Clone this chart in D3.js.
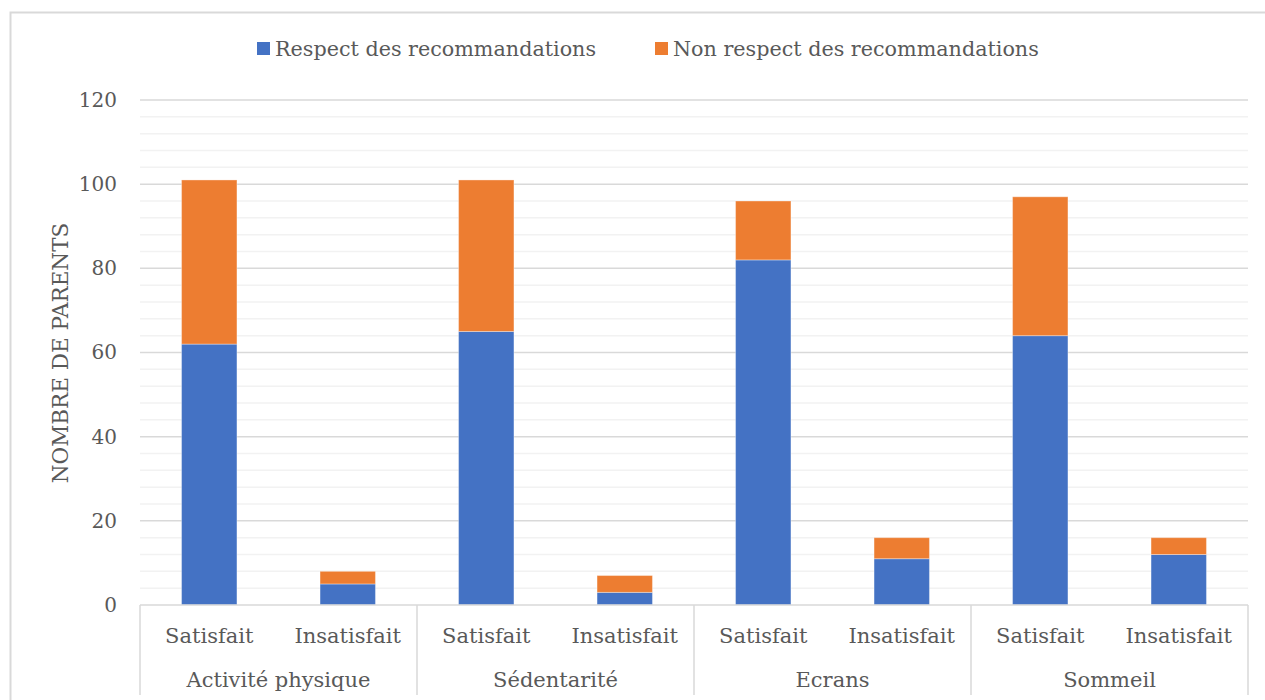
<!DOCTYPE html>
<html><head><meta charset="utf-8">
<script src="https://cdn.jsdelivr.net/npm/d3@7"></script>
<style>
body{margin:0;background:#fff;}
text{font-family:"DejaVu Serif",serif;fill:#595959;}
</style></head>
<body><svg id="c" width="1265" height="700"></svg>
<script>
const groups = ["Activité physique","Sédentarité","Ecrans","Sommeil"];
const subs = ["Satisfait","Insatisfait"];
const seriesNames = ["Respect des recommandations","Non respect des recommandations"];
const respect = [62,5,65,3,82,11,64,12];
const nonRespect = [39,3,36,4,14,5,33,4];
const yTicks = [0,20,40,60,80,100,120];
const colors = ["#4472C4","#ED7D31"];

const svg = d3.select("#c");
const L=140,R=1248,T=100,B=605;
svg.append("rect").attr("x",10.5).attr("y",12.5).attr("width",1270).attr("height",700).attr("fill","none").attr("stroke","#d9d9d9").attr("stroke-width",2);

const rows = [];
groups.forEach((g,gi)=>subs.forEach((s,si)=>{const i=gi*2+si;rows.push({key:g+"|"+s,g,s,respect:respect[i],non:nonRespect[i]});}));

const x = d3.scaleBand().domain(rows.map(d=>d.key)).range([L,R]).paddingInner(0.6).paddingOuter(0.3);
const y = d3.scaleLinear().domain([0,120]).range([B,T]);

// minor gridlines
const minor = d3.range(0,121,4).filter(v=>v%20!==0);
svg.append("g").selectAll("line").data(minor).join("line")
 .attr("x1",L).attr("x2",R).attr("y1",d=>y(d)).attr("y2",d=>y(d)).attr("stroke","#f2f2f2").attr("stroke-width",1.5);
svg.append("g").selectAll("line").data(yTicks.filter(v=>v>0)).join("line")
 .attr("x1",L).attr("x2",R).attr("y1",d=>y(d)).attr("y2",d=>y(d)).attr("stroke","#d9d9d9").attr("stroke-width",1.5);

// y axis labels
const yAxis = d3.axisLeft(y).tickValues(yTicks).tickSize(0).tickPadding(23);
const ya = svg.append("g").attr("transform",`translate(${L},0)`).call(yAxis);
ya.select(".domain").remove();
ya.selectAll("text").style("font-family","DejaVu Serif").style("font-size","20px").attr("fill","#595959");

// bars
const stack = d3.stack().keys(["respect","non"])(rows);
svg.append("g").selectAll("g").data(stack).join("g").attr("fill",(d,i)=>colors[i])
 .selectAll("rect").data(d=>d).join("rect")
 .attr("x",d=>x(d.data.key)).attr("width",x.bandwidth())
 .attr("y",d=>y(d[1])).attr("height",d=>y(d[0])-y(d[1]))
 .attr("stroke","rgba(255,255,255,0.35)").attr("stroke-width",1);

// x axis line
svg.append("line").attr("x1",L).attr("x2",R).attr("y1",B).attr("y2",B).attr("stroke","#d9d9d9").attr("stroke-width",1.5);
// group separators
const gx = d3.scaleBand().domain(groups).range([L,R]);
const seps = groups.map(g=>gx(g)).concat([R]);
svg.append("g").selectAll("line").data(seps).join("line")
 .attr("x1",d=>d).attr("x2",d=>d).attr("y1",B).attr("y2",695).attr("stroke","#d9d9d9").attr("stroke-width",1.5);

svg.append("g").selectAll("text").data(rows).join("text")
 .attr("x",d=>x(d.key)+x.bandwidth()/2).attr("y",643).attr("text-anchor","middle")
 .style("font-size","21px").text(d=>d.s);
svg.append("g").selectAll("text").data(groups).join("text")
 .attr("x",d=>gx(d)+gx.bandwidth()/2).attr("y",687).attr("text-anchor","middle")
 .style("font-size","21px").text(d=>d);

// y title
svg.append("text").attr("transform",`translate(68,353) rotate(-90)`).attr("text-anchor","middle")
 .style("font-size","21.5px").text("NOMBRE DE PARENTS");

// legend
const leg = [{x:257,t:seriesNames[0],c:colors[0]},{x:655,t:seriesNames[1],c:colors[1]}];
const lg = svg.append("g").selectAll("g").data(leg).join("g").attr("transform",d=>`translate(${d.x},0)`);
lg.append("rect").attr("x",0).attr("y",42).attr("width",13).attr("height",13).attr("fill",d=>d.c);
lg.append("text").attr("x",18).attr("y",56).style("font-size","20.7px").text(d=>d.t);
</script></body></html>
